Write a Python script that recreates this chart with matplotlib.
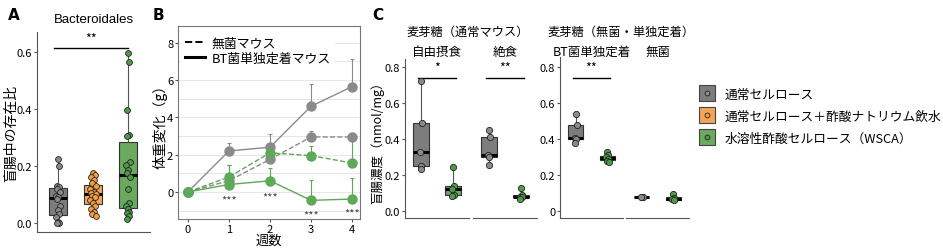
import matplotlib
matplotlib.use('Agg')
import matplotlib.pyplot as plt
import numpy as np
from matplotlib.lines import Line2D
from matplotlib.legend_handler import HandlerTuple

plt.rcParams['font.family'] = ['Noto Sans CJK JP', 'DejaVu Sans']
plt.rcParams['axes.unicode_minus'] = False

W, H = 943, 251

# colours
c_gray = '#7d7d7d'
c_orange = '#f3a65a'
c_green = '#6aa95e'
pt_gray = '#8a8a8a'
pt_orange = '#f5a040'
pt_green = '#4f9a4a'
line_gray = '#8a8a8a'
line_green = '#5ea85a'

# ---- panel A: Bacteroidales ratio in cecum
a_gray = [0.225, 0.2, 0.13, 0.125, 0.12, 0.11, 0.095, 0.09, 0.085, 0.06,
          0.045, 0.03, 0.02, 0.005, 0.0, 0.0]
a_orange = [0.175, 0.17, 0.16, 0.15, 0.14, 0.13, 0.12, 0.11, 0.105, 0.1,
            0.095, 0.09, 0.08, 0.07, 0.06, 0.05, 0.04, 0.03, 0.025]
a_green = [0.595, 0.565, 0.395, 0.31, 0.305, 0.215, 0.205, 0.185, 0.175,
           0.16, 0.12, 0.07, 0.06, 0.05, 0.04, 0.035, 0.025, 0.015]

# ---- panel B: body weight change
weeks = [0, 1, 2, 3, 4]
b_gray_bt = [0, 2.2, 2.4, 4.6, 5.65]
b_gray_bt_err = [0, 0.45, 0.7, 1.2, 1.5]
b_gray_gf = [0, 0.6, 1.75, 2.95, 2.95]
b_gray_gf_err = [0, 0.1, 0.15, 0.3, 0.1]
b_green_gf = [0, 0.8, 2.1, 1.95, 1.55]
b_green_gf_err = [0, 0.65, 0.2, 0.5, 1.35]
b_green_bt = [0, 0.4, 0.6, -0.45, -0.38]
b_green_bt_err = [0, 1.05, 0.7, 1.1, 1.13]
b_star_y = [-0.15, 0.0, -0.95, -0.85]

# ---- panel C: cecal maltose
c_free_gray = [0.72, 0.49, 0.33, 0.25, 0.235]
c_free_green = [0.245, 0.14, 0.12, 0.09, 0.085]
c_fast_gray = [0.45, 0.41, 0.31, 0.30, 0.255]
c_fast_green = [0.13, 0.09, 0.08, 0.075, 0.065]
c_bt_gray = [0.54, 0.475, 0.405, 0.40, 0.375]
c_bt_green = [0.33, 0.31, 0.30, 0.29, 0.28, 0.27]
c_gf_gray = [0.08, 0.075, 0.075]
c_gf_green = [0.095, 0.07, 0.065, 0.06]

legend_labels = ['通常セルロース', '通常セルロース＋酢酸ナトリウム飲水',
                 '水溶性酢酸セルロース（WSCA）']


def px(l, t, r, b):
    return [l / W, 1 - b / H, (r - l) / W, (b - t) / H]


def jitter(n, amp):
    # fixed spread pattern for the dots
    pat = np.array([0.0, 0.6, -0.6, 0.3, -0.3, 0.9, -0.9, 0.15, -0.45, 0.75, -0.15, 0.45, -0.75])
    return np.resize(pat, n) * amp


def box_dots(ax, pos, vals, fill, ptc, width, amp, ms=4.2):
    ax.boxplot([vals], positions=[pos], widths=width, whis=(0, 100),
               patch_artist=True, showfliers=False,
               boxprops=dict(facecolor=fill, edgecolor='#333333', linewidth=0.8),
               medianprops=dict(color='black', linewidth=2.2),
               whiskerprops=dict(color='#555555', linewidth=0.8),
               capprops=dict(linewidth=0))
    ax.plot(pos + jitter(len(vals), amp), vals, 'o', ms=ms, mfc=ptc,
            mec='#222222', mew=0.6, zorder=5, linestyle='none')


def clean(ax, left=True):
    for s in ['top', 'right']:
        ax.spines[s].set_visible(False)
    ax.spines['bottom'].set_color('#555555')
    ax.spines['left'].set_color('#555555')
    if not left:
        ax.spines['left'].set_visible(False)
        ax.set_yticks([])
    ax.set_xticks([])
    ax.tick_params(axis='y', labelsize=8, length=2, color='#555555', pad=1.5)


fig = plt.figure(figsize=(W / 100, H / 100), dpi=100)

# ===== A
axA = fig.add_axes(px(37, 33, 150, 233))
box_dots(axA, 1, a_gray, c_gray, pt_gray, 0.5, 0.06)
box_dots(axA, 2, a_orange, c_orange, pt_orange, 0.5, 0.1)
box_dots(axA, 3, a_green, c_green, pt_green, 0.5, 0.06)
axA.set_xlim(0.4, 3.63)
axA.set_ylim(-0.0316, 0.67)
axA.set_yticks([0.0, 0.2, 0.4, 0.6])
axA.set_yticklabels(['0.0', '0.2', '0.4', '0.6'])
clean(axA)
axA.set_ylabel('盲腸中の存在比', fontsize=10)
axA.yaxis.set_label_coords(-0.165, 0.5)
axA.plot([0.9, 3.0], [0.615, 0.615], color='black', lw=1)
axA.text(1.95, 0.625, '**', ha='center', va='bottom', fontsize=9)
axA.set_title('Bacteroidales', fontsize=9.5, pad=7, family='Liberation Sans')
fig.text(8 / W, 1 - 16 / H, 'A', fontsize=11, fontweight='bold', family='DejaVu Sans', va='center')

# ===== B
axB = fig.add_axes(px(178, 27, 360, 220))
axB.set_xlim(-0.24, 4.19)
axB.set_ylim(-1.45, 8.9)
for yy in np.arange(-1, 9, 1):
    axB.axhline(yy, color='#e6e6e6', lw=0.7, zorder=0)
series = [
    (b_gray_bt, b_gray_bt_err, line_gray, '-'),
    (b_gray_gf, b_gray_gf_err, line_gray, '--'),
    (b_green_gf, b_green_gf_err, line_green, '--'),
    (b_green_bt, b_green_bt_err, line_green, '-'),
]
for y, e, col, ls in series:
    axB.errorbar(weeks, y, yerr=[np.zeros(len(e)), e], fmt='none', ecolor=col,
                 elinewidth=0.8, capsize=1.5, capthick=0.8, zorder=2)
    axB.plot(weeks, y, color=col, ls=ls, lw=1.0, marker='o', ms=6.5,
             mfc=col, mec=col, zorder=3)
for w, sy in zip(weeks[1:], b_star_y):
    axB.text(w, sy, '***', ha='center', va='top', fontsize=8, color='#444444')
axB.set_xticks(weeks)
axB.set_yticks([0, 2, 4, 6, 8])
axB.tick_params(labelsize=8, length=2, color='#555555', pad=1.5)
for s in axB.spines.values():
    s.set_color('#777777')
axB.set_xlabel('週数', fontsize=9.5, labelpad=0)
axB.set_ylabel('体重変化（g）', fontsize=10)
axB.yaxis.set_label_coords(-0.055, 0.5)
hB = [Line2D([], [], color='black', ls='--', lw=1.4),
      Line2D([], [], color='black', ls='-', lw=2.2)]
axB.legend(hB, ['無菌マウス', 'BT菌単独定着マウス'], loc='upper left',
           bbox_to_anchor=(-0.02, 1.0), fontsize=9.3, frameon=True,
           facecolor='white', edgecolor='none', framealpha=1,
           handlelength=1.6, handletextpad=0.5, labelspacing=0.2, borderpad=0.3)
fig.text(153 / W, 1 - 16 / H, 'B', fontsize=11, fontweight='bold', family='DejaVu Sans', va='center')

# ===== C
c_facets = [
    (405, 469, 60, c_free_gray, c_free_green, '自由摂食', '*', ['0.0', '0.2', '0.4', '0.6', '0.8']),
    (473, 537, 60, c_fast_gray, c_fast_green, '絶食', '**', None),
    (560, 623, 58, c_bt_gray, c_bt_green, 'BT菌単独定着', '**', ['0', '0.2', '0.4', '0.6', '0.8']),
    (626, 689, 58, c_gf_gray, c_gf_green, '無菌', None, None),
]
for l, r, t, g, gr, strip, star, labels in c_facets:
    ax = fig.add_axes(px(l, t, r, 219))
    box_dots(ax, 1, g, c_gray, pt_gray, 0.48, 0.05, ms=4.5)
    box_dots(ax, 2, gr, c_green, pt_green, 0.48, 0.06, ms=4.5)
    ax.set_xlim(0.5, 2.5)
    ax.set_ylim(-0.039, (212 - t) / 180)
    ax.set_yticks([0, 0.2, 0.4, 0.6, 0.8])
    clean(ax, labels is not None)
    if labels is not None:
        ax.set_yticklabels(labels)
    fig.text((l + r) / 2 / W, 1 - 52 / H, strip, fontsize=9, ha='center', va='center')
    if star:
        ax.plot([0.9, 2.1], [0.74, 0.74], color='black', lw=1)
        ax.text(1.5, 0.76, star, ha='center', va='bottom', fontsize=9)
    if l == 405:
        ax.set_ylabel('盲腸濃度（nmol/mg）', fontsize=9)
        ax.yaxis.set_label_coords(-0.33, 0.5)

fig.text(468 / W, 1 - 32 / H, '麦芽糖（通常マウス）', fontsize=8.8, ha='center', va='center')
fig.text(621 / W, 1 - 32 / H, '麦芽糖（無菌・単独定着）', fontsize=8.8, ha='center', va='center')
fig.text(372 / W, 1 - 16 / H, 'C', fontsize=11, fontweight='bold', family='DejaVu Sans', va='center')

# ===== legend
hL = [Line2D([], [], marker='s', ms=12, mfc=fc, mec='#444444', mew=0.8, ls='none')
      for fc in [c_gray, c_orange, c_green]]
hP = [Line2D([], [], marker='o', ms=3.5, mfc=fc, mec='#222222', mew=0.6, ls='none')
      for fc in [pt_gray, pt_orange, pt_green]]
fig.legend(list(zip(hL, hP)), legend_labels, loc='center left',
           bbox_to_anchor=(688 / W, 1 - 117 / H), frameon=False, fontsize=9.2,
           handler_map={tuple: HandlerTuple(ndivide=1, pad=0)},
           handlelength=1.2, handletextpad=0.8, labelspacing=0.7)

fig.savefig('out.png', dpi=100)
